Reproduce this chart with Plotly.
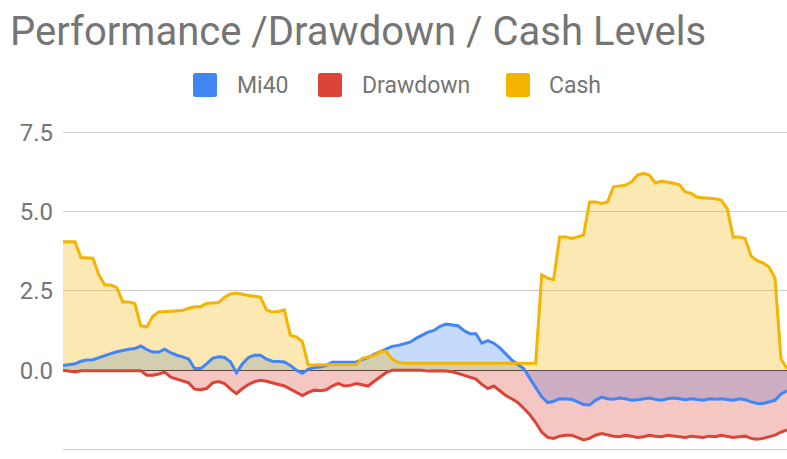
import plotly.graph_objects as go

# Values (one sample per period)
mi40 = [0.15, 0.17, 0.2, 0.28, 0.32, 0.33, 0.4, 0.47, 0.52, 0.58,
        0.63, 0.66, 0.68, 0.76, 0.65, 0.57, 0.57, 0.66, 0.55, 0.47,
        0.42, 0.35, 0.05, 0.05, 0.2, 0.37, 0.42, 0.4, 0.26, -0.08,
        0.2, 0.4, 0.47, 0.47, 0.35, 0.28, 0.27, 0.26, 0.15, 0.0,
        -0.1, 0.03, 0.08, 0.1, 0.15, 0.25, 0.25, 0.26, 0.26, 0.26,
        0.33, 0.4, 0.5, 0.58, 0.68, 0.75, 0.78, 0.82, 0.88, 1.0,
        1.1, 1.2, 1.25, 1.38, 1.45, 1.42, 1.4, 1.25, 1.15, 1.15,
        0.85, 0.93, 0.85, 0.7, 0.5, 0.32, 0.18, 0.05, -0.25, -0.55,
        -0.84, -1.02, -0.98, -0.9, -0.9, -0.92, -1.0, -1.08, -1.1, -0.95,
        -0.85, -0.9, -0.92, -0.88, -0.9, -0.95, -0.93, -0.9, -0.88, -0.92,
        -0.95, -0.9, -0.88, -0.9, -0.93, -0.9, -0.92, -0.95, -0.9, -0.92,
        -0.9, -0.93, -0.95, -0.9, -0.93, -1.0, -1.05, -1.05, -1.0, -0.95,
        -0.75, -0.65]

drawdown = [0.0, -0.03, -0.06, -0.02, -0.02, -0.02, -0.01, -0.02, -0.02, -0.01,
            -0.01, -0.02, -0.01, -0.02, -0.16, -0.16, -0.12, -0.06, -0.22, -0.28,
            -0.33, -0.4, -0.6, -0.62, -0.58, -0.4, -0.36, -0.42, -0.6, -0.74,
            -0.58, -0.45, -0.36, -0.32, -0.35, -0.4, -0.45, -0.5, -0.6, -0.7,
            -0.8, -0.7, -0.63, -0.65, -0.62, -0.5, -0.42, -0.5, -0.48, -0.42,
            -0.45, -0.5, -0.35, -0.2, -0.08, 0.0, 0.0, -0.01, 0.0, -0.01,
            0.0, -0.03, -0.02, -0.02, -0.03, -0.05, -0.1, -0.15, -0.22, -0.28,
            -0.45, -0.58, -0.5, -0.65, -0.8, -0.9, -1.02, -1.2, -1.4, -1.65,
            -1.95, -2.12, -2.15, -2.08, -2.05, -2.05, -2.12, -2.2, -2.15, -2.05,
            -2.0, -2.05, -2.08, -2.1, -2.05, -2.08, -2.12, -2.1, -2.05, -2.08,
            -2.1, -2.05, -2.08, -2.1, -2.12, -2.08, -2.1, -2.12, -2.08, -2.1,
            -2.05, -2.08, -2.12, -2.1, -2.08, -2.15, -2.18, -2.15, -2.1, -2.05,
            -1.95, -1.88]

cash = [4.05, 4.05, 4.05, 3.55, 3.53, 3.53, 3.0, 2.68, 2.68, 2.6,
        2.15, 2.15, 2.1, 1.4, 1.36, 1.7, 1.83, 1.84, 1.85, 1.86,
        1.88, 1.95, 2.0, 2.0, 2.1, 2.12, 2.13, 2.3, 2.4, 2.43,
        2.38, 2.35, 2.33, 2.3, 1.9, 1.83, 1.85, 1.9, 1.1, 1.05,
        0.9, 0.16, 0.16, 0.17, 0.17, 0.17, 0.18, 0.18, 0.18, 0.18,
        0.37, 0.42, 0.46, 0.58, 0.6, 0.35, 0.25, 0.22, 0.22, 0.22,
        0.22, 0.22, 0.22, 0.22, 0.22, 0.22, 0.22, 0.22, 0.22, 0.22,
        0.22, 0.22, 0.22, 0.22, 0.22, 0.22, 0.22, 0.22, 0.22, 0.22,
        3.0, 2.9, 2.85, 4.2, 4.2, 4.15, 4.2, 4.26, 5.3, 5.3,
        5.25, 5.3, 5.78, 5.8, 5.83, 5.93, 6.15, 6.2, 6.15, 5.9,
        5.95, 5.93, 5.9, 5.85, 5.62, 5.57, 5.45, 5.43, 5.43, 5.4,
        5.36, 5.1, 4.2, 4.2, 4.15, 3.6, 3.45, 3.38, 3.25, 2.9,
        0.35, 0.05]

periods = list(range(len(cash)))
y_ticks = [-2.5, 0.0, 2.5, 5.0, 7.5]

names = ["Mi40", "Drawdown", "Cash"]
values = [mi40, drawdown, cash]
line_colors = ["#4285F4", "#DB4437", "#F4B400"]
fill_colors = ["rgba(66,133,244,0.3)", "rgba(219,68,55,0.3)", "rgba(244,180,0,0.3)"]

W, H = 787, 459
ML, MR, MT, MB = 63, 0, 129, 0
PW, PH = W - ML - MR, H - MT - MB


def px_x(px):
    return (px - ML) / PW


def px_y(py):
    return (H - MB - py) / PH


fig = go.Figure()
# areas first (as the original draws all fills beneath all lines)
for name, vals, fcol in zip(names, values, fill_colors):
    fig.add_trace(go.Scatter(
        x=periods, y=vals, mode="lines", name=name + " area",
        line=dict(width=0), fill="tozeroy", fillcolor=fcol,
        showlegend=False, hoverinfo="skip"))
for name, vals, col in zip(names, values, line_colors):
    fig.add_trace(go.Scatter(
        x=periods, y=vals, mode="lines", name=name,
        line=dict(color=col, width=3), showlegend=False))

# manual legend: rounded square swatches + labels
swatch_left = [193, 318, 506]
label_left = [235, 360, 547]
legend_cy = 85
shapes = []
annotations = []
r = 2.5
for sx, lx, name, col in zip(swatch_left, label_left, names, line_colors):
    x0, x1 = px_x(sx), px_x(sx + 24)
    y0, y1 = px_y(legend_cy + 12), px_y(legend_cy - 12)
    rx, ry = r / PW, r / PH
    path = (f"M {x0 + rx},{y0} L {x1 - rx},{y0} Q {x1},{y0} {x1},{y0 + ry} "
            f"L {x1},{y1 - ry} Q {x1},{y1} {x1 - rx},{y1} L {x0 + rx},{y1} "
            f"Q {x0},{y1} {x0},{y1 - ry} L {x0},{y0 + ry} Q {x0},{y0} {x0 + rx},{y0} Z")
    shapes.append(dict(type="path", xref="paper", yref="paper", path=path,
                       fillcolor=col, line=dict(width=0), layer="above"))
    annotations.append(dict(text=name, xref="paper", yref="paper",
                            x=px_x(lx), y=px_y(legend_cy), xanchor="left",
                            yanchor="middle", showarrow=False,
                            font=dict(size=23, color="#757575", family="Roboto")))

fig.update_layout(
    width=W, height=H,
    margin=dict(l=ML, r=MR, t=MT, b=MB, autoexpand=False),
    paper_bgcolor="white", plot_bgcolor="white",
    font=dict(family="Roboto", color="#757575"),
    showlegend=False,
    title=dict(text="Performance /Drawdown / Cash Levels",
               font=dict(size=40, color="#757575", family="Roboto"),
               xref="container", x=10 / W, xanchor="left",
               yref="container", y=1 - 31 / H, yanchor="middle"),
    shapes=shapes,
    annotations=annotations,
    xaxis=dict(range=[0, len(cash) - 1], showgrid=False, showticklabels=False,
               zeroline=False, showline=False, ticks=""),
    yaxis=dict(range=[-2.8, 7.6], tickvals=y_ticks, tickformat=".1f",
               showgrid=True, gridcolor="#cccccc", gridwidth=1,
               zeroline=True, zerolinecolor="#333333", zerolinewidth=1,
               showline=False, ticks="", ticklabelstandoff=9,
               tickfont=dict(size=24, color="#757575")),
)

fig.write_html("out.html",
               config={"displayModeBar": False},
               post_script="document.body.style.margin='0';"
                           "document.body.style.overflow='hidden';")
